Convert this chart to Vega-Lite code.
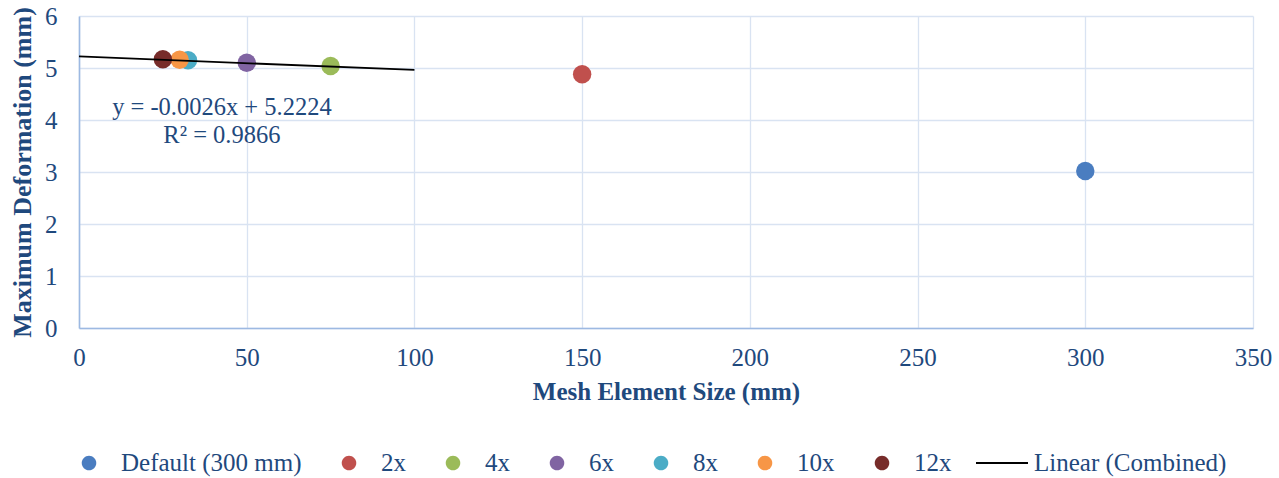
{
  "$schema": "https://vega.github.io/schema/vega-lite/v6.json",
  "width": 1174,
  "height": 312,
  "autosize": "none",
  "padding": {"left": 79, "top": 16, "right": 26, "bottom": 150},
  "background": "white",
  "config": {"view": {"stroke": null}, "font": "Liberation Serif"},
  "datasets": {
    "points": [
      {"size": 300, "deformation": 3.02, "series": "Default (300 mm)"},
      {"size": 150, "deformation": 4.88, "series": "2x"},
      {"size": 75, "deformation": 5.04, "series": "4x"},
      {"size": 50, "deformation": 5.10, "series": "6x"},
      {"size": 32.5, "deformation": 5.15, "series": "8x"},
      {"size": 30, "deformation": 5.16, "series": "10x"},
      {"size": 25, "deformation": 5.17, "series": "12x"}
    ]
  },
  "layer": [
    {
      "data": {"name": "points"},
      "mark": {"type": "point", "filled": true, "opacity": 1, "size": 340},
      "encoding": {
        "x": {"field": "size", "type": "quantitative",
          "scale": {"domain": [0, 350], "nice": false},
          "axis": {"values": [0, 50, 100, 150, 200, 250, 300, 350], "grid": true, "gridColor": "#D9E3F2", "gridWidth": 1.3,
            "domainColor": "#9DB9E2", "domainWidth": 1.6, "ticks": false, "labelFlush": false, "labelOverlap": false,
            "labelFont": "Liberation Serif", "labelFontSize": 25, "labelColor": "#1F497D", "labelPadding": 17,
            "title": "Mesh Element Size (mm)", "titleFont": "Liberation Serif", "titleFontSize": 25, "titleFontWeight": "bold",
            "titleColor": "#1F497D", "titlePadding": 9}},
        "y": {"field": "deformation", "type": "quantitative",
          "scale": {"domain": [0, 6], "nice": false},
          "axis": {"values": [0, 1, 2, 3, 4, 5, 6], "grid": true, "gridColor": "#D9E3F2", "gridWidth": 1.3,
            "domainColor": "#9DB9E2", "domainWidth": 1.6, "ticks": false, "labelFlush": false, "labelOverlap": false,
            "labelFont": "Liberation Serif", "labelFontSize": 25, "labelColor": "#1F497D", "labelPadding": 22,
            "title": "Maximum Deformation (mm)", "titleFont": "Liberation Serif", "titleFontSize": 26, "titleFontWeight": "bold",
            "titleColor": "#1F497D", "titlePadding": 9}},
        "color": {"field": "series", "type": "nominal",
          "scale": {"domain": ["Default (300 mm)", "2x", "4x", "6x", "8x", "10x", "12x"],
            "range": ["#4A7DC0", "#C0504D", "#9BBB59", "#8064A2", "#4BACC6", "#F79646", "#772C2A"]},
          "legend": null}
      }
    },
    {
      "data": {"values": []},
      "mark": {"type": "point", "filled": true, "opacity": 1},
      "encoding": {
        "x": {"field": "size", "type": "quantitative"},
        "y": {"field": "deformation", "type": "quantitative"},
        "fill": {"field": "series", "type": "nominal",
          "scale": {"domain": ["Default (300 mm)", "2x", "4x", "6x", "8x", "10x", "12x", "Linear (Combined)"],
            "range": ["#4A7DC0", "#C0504D", "#9BBB59", "#8064A2", "#4BACC6", "#F79646", "#772C2A", "transparent"]},
          "legend": {"title": null, "orient": "none", "legendX": -17, "legendY": 420, "direction": "horizontal",
            "columns": 8, "columnPadding": 20, "symbolSize": 2704, "symbolStrokeWidth": 2, "symbolOpacity": 1, "labelOffset": 5,
            "labelFont": "Liberation Serif", "labelFontSize": 25, "labelColor": "#1F497D", "labelLimit": 0, "padding": 0}},
        "stroke": {"field": "series", "type": "nominal",
          "scale": {"domain": ["Default (300 mm)", "2x", "4x", "6x", "8x", "10x", "12x", "Linear (Combined)"],
            "range": ["transparent", "transparent", "transparent", "transparent", "transparent", "transparent", "transparent", "#000000"]}},
        "shape": {"field": "series", "type": "nominal",
          "scale": {"domain": ["Default (300 mm)", "2x", "4x", "6x", "8x", "10x", "12x", "Linear (Combined)"],
            "range": [
              "M -0.28,0 A 0.28,0.28 0 1,0 0.28,0 A 0.28,0.28 0 1,0 -0.28,0 Z",
              "M -0.28,0 A 0.28,0.28 0 1,0 0.28,0 A 0.28,0.28 0 1,0 -0.28,0 Z",
              "M -0.28,0 A 0.28,0.28 0 1,0 0.28,0 A 0.28,0.28 0 1,0 -0.28,0 Z",
              "M -0.28,0 A 0.28,0.28 0 1,0 0.28,0 A 0.28,0.28 0 1,0 -0.28,0 Z",
              "M -0.28,0 A 0.28,0.28 0 1,0 0.28,0 A 0.28,0.28 0 1,0 -0.28,0 Z",
              "M -0.28,0 A 0.28,0.28 0 1,0 0.28,0 A 0.28,0.28 0 1,0 -0.28,0 Z",
              "M -0.28,0 A 0.28,0.28 0 1,0 0.28,0 A 0.28,0.28 0 1,0 -0.28,0 Z",
              "M -1,0 H 1"
            ]}}
      }
    },
    {
      "data": {"values": [
        {"size": 0, "deformation": 5.2224},
        {"size": 100, "deformation": 4.9624}
      ]},
      "mark": {"type": "line", "strokeWidth": 1.8, "color": "#000000"},
      "encoding": {
        "x": {"field": "size", "type": "quantitative"},
        "y": {"field": "deformation", "type": "quantitative"}
      }
    },
    {
      "data": {"values": [
        {"size": 42.6, "deformation": 4.24, "label": "y = -0.0026x + 5.2224"},
        {"size": 42.6, "deformation": 3.70, "label": "R² = 0.9866"}
      ]},
      "mark": {"type": "text", "font": "Liberation Serif", "fontSize": 24.5, "color": "#1F497D", "align": "center", "baseline": "middle"},
      "encoding": {
        "x": {"field": "size", "type": "quantitative"},
        "y": {"field": "deformation", "type": "quantitative"},
        "text": {"field": "label"}
      }
    }
  ]
}
